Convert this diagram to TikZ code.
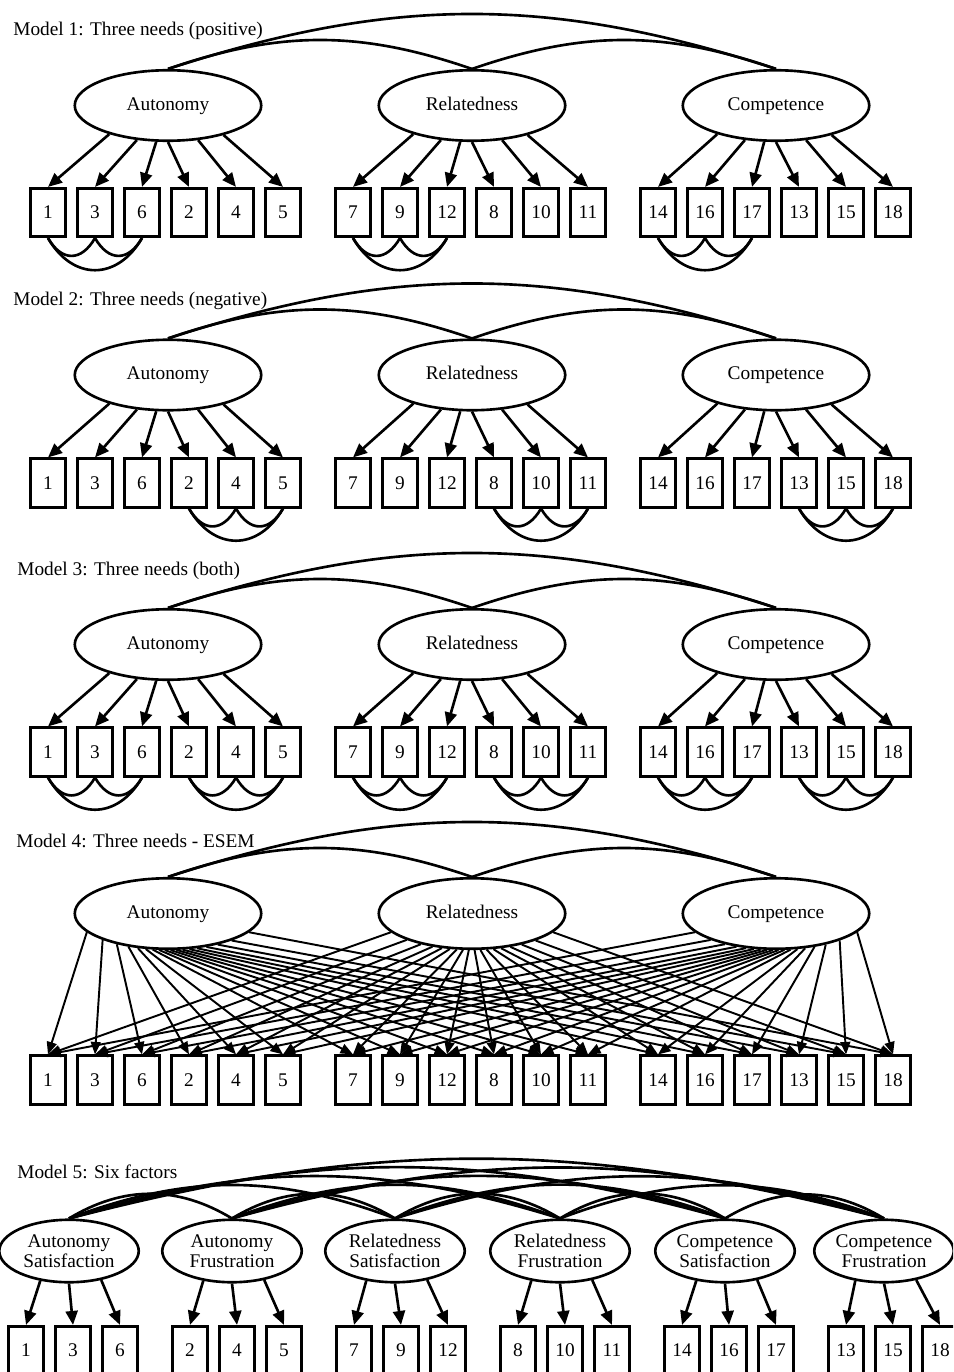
\documentclass[tikz,border=0pt]{standalone}
\usepackage{fontspec}
\setmainfont{Liberation Serif}
\usetikzlibrary{shapes.geometric, arrows.meta}

\tikzset{
    item/.style={draw, line width=1.5pt, minimum width=0.69cm, minimum height=0.97cm,
        inner sep=0pt, font=\fontsize{11}{13}\selectfont},
    latent/.style={draw, ellipse, line width=1.5pt, inner sep=0pt},
    factor/.style={latent, minimum width=3.73cm, minimum height=1.41cm,
        text height=7.6pt, text depth=2.4pt, font=\fontsize{11}{13}\selectfont},
    subfactor/.style={latent, minimum width=2.79cm, minimum height=1.25cm,
        align=center, font=\fontsize{11}{11.5}\selectfont},
    load/.style={line width=1.5pt, -{Triangle[length=0.28cm, width=0.24cm]}},
    loadesem/.style={line width=1.1pt, -{Triangle[length=0.25cm, width=0.2cm]}},
    covar/.style={line width=1.5pt},
    heading/.style={anchor=west, inner sep=0pt, font=\fontsize{11}{13}\selectfont}
}

\begin{document}
\begin{tikzpicture}[x=0.02cm, y=-0.02cm]

    % Page
    \clip (0,0) rectangle (953,1372);
    \fill[white] (0,0) rectangle (953,1372);

    % Models 1-4: three factors over eighteen items
    \foreach \m/\yf/\yi/\yt/\xt/\ttl in {
        1/105.5/212.5/31/13/{Model 1: Three needs (positive)},
        2/375/483/301/13/{Model 2: Three needs (negative)},
        3/644.5/752/571/17/{Model 3: Three needs (both)},
        4/913.5/1080/841/16/{Model 4: Three needs - ESEM}}{
        \node[heading] (title\m) at (\xt,\yt) {\ttl};
        \foreach \g/\fac/\fname/\items in {
            0/aut/Autonomy/{1,3,6,2,4,5},
            1/rel/Relatedness/{7,9,12,8,10,11},
            2/com/Competence/{14,16,17,13,15,18}}{
            \node[factor] (\fac\m) at (168+304*\g,\yf) {\fname};
            \foreach \lbl [count=\i from 0] in \items{
                \node[item] (m\m-\lbl) at (48+305*\g+47*\i,\yi) {\lbl};
            }
        }
        % factor covariances
        \draw[covar] (aut\m.north) to[bend left=19] (rel\m.north);
        \draw[covar] (rel\m.north) to[bend left=19] (com\m.north);
        \draw[covar] (aut\m.north) to[bend left=18] (com\m.north);
    }

    % Loadings, models 1-3
    \foreach \m in {1,2,3}{
        \foreach \fac/\items in {aut/{1,3,6,2,4,5}, rel/{7,9,12,8,10,11},
                                 com/{14,16,17,13,15,18}}{
            \foreach \lbl [count=\i from 0] in \items{
                \pgfmathtruncatemacro\ang{{206,228,252,270,311,332}[\i]}
                \draw[load] (\fac\m.\ang) -- (m\m-\lbl.north);
            }
        }
    }

    % Correlated residuals
    \foreach \m/\a/\b/\c in {1/1/3/6, 1/7/9/12, 1/14/16/17,
                             2/2/4/5, 2/8/10/11, 2/13/15/18,
                             3/1/3/6, 3/7/9/12, 3/14/16/17,
                             3/2/4/5, 3/8/10/11, 3/13/15/18}{
        \draw[covar] (m\m-\a.south) to[out=-60, in=-120, looseness=1.5] (m\m-\b.south);
        \draw[covar] (m\m-\b.south) to[out=-60, in=-120, looseness=1.5] (m\m-\c.south);
        \draw[covar] (m\m-\a.south) to[out=-60, in=-120, looseness=1.35] (m\m-\c.south);
    }

    % Model 4: every factor loads on every item
    \foreach \fac in {aut4, rel4, com4}{
        \foreach \lbl [count=\k from 0] in {1,3,6,2,4,5,7,9,12,8,10,11,14,16,17,13,15,18}{
            \pgfmathtruncatemacro\ang{193+154*\k/17}
            \draw[loadesem] (\fac.\ang) -- (m4-\lbl.north);
        }
    }

    % Model 5: six factors
    \node[heading] (title5) at (17,1172) {Model 5: Six factors};
    \foreach \s/\x/\need/\kind/\items in {
        1/69/Autonomy/Satisfaction/{1,3,6},
        2/232/Autonomy/Frustration/{2,4,5},
        3/395/Relatedness/Satisfaction/{7,9,12},
        4/560/Relatedness/Frustration/{8,10,11},
        5/725/Competence/Satisfaction/{14,16,17},
        6/884/Competence/Frustration/{13,15,18}}{
        \node[subfactor] (s\s) at (\x,1251) {\need\\\kind};
        \foreach \lbl [count=\i from 0] in \items{
            \node[item] (m5-\lbl) at (26+164*\s-164+47*\i,1350.5) {\lbl};
            \pgfmathtruncatemacro\ang{{226,270,318}[\i]}
            \draw[load] (s\s.\ang) -- (m5-\lbl.north);
        }
    }
    \foreach \s in {1,...,5}{
        \pgfmathtruncatemacro\nxt{\s+1}
        \foreach \t in {\nxt,...,6}{
            \pgfmathsetmacro\bnd{asin((16+8.8*(\t-\s))/(47.86*(\t-\s)))}
            \draw[covar] (s\s.north) to[bend left=\bnd] (s\t.north);
        }
    }

\end{tikzpicture}
\end{document}
